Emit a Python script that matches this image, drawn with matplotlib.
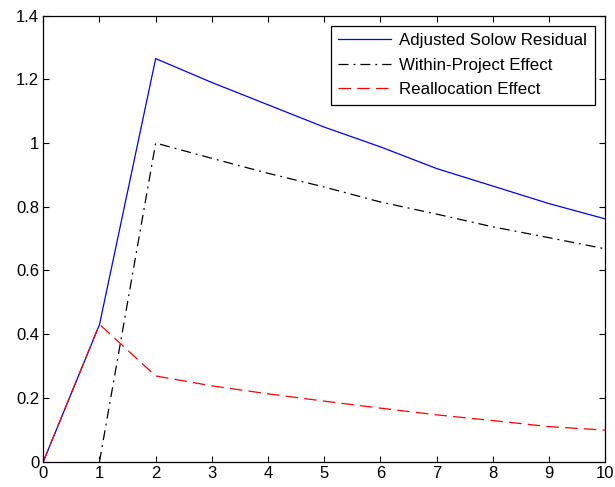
import matplotlib
matplotlib.use('Agg')

import numpy as np
from matplotlib import pyplot as plt

plt.rcParams['font.family'] = ['Liberation Sans', 'DejaVu Sans']

# periods
t = [0, 1, 2, 3, 4, 5, 6, 7, 8, 9, 10]

# series (within-project effect starts at t=1)
solow = [0, 0.43, 1.265, 1.19, 1.12, 1.05, 0.988, 0.92, 0.865, 0.81, 0.762]
within = [np.nan, 0, 1.0, 0.952, 0.905, 0.862, 0.815, 0.777, 0.737, 0.703, 0.668]
realloc = [0, 0.431, 0.269, 0.238, 0.213, 0.19, 0.168, 0.147, 0.129, 0.11, 0.099]

names = ['Adjusted Solow Residual', 'Within-Project Effect', 'Reallocation Effect']

xticks = [0, 1, 2, 3, 4, 5, 6, 7, 8, 9, 10]
yticks = [0, 0.2, 0.4, 0.6, 0.8, 1.0, 1.2, 1.4]
ylabels = ['0', '0.2', '0.4', '0.6', '0.8', '1', '1.2', '1.4']

fig = plt.figure(figsize=(6.15, 4.87), dpi=100)
ax = fig.add_axes([0.0704, 0.052, 0.9136, 0.916])

ax.plot(t, solow, color='#0000ff', lw=0.9, label=names[0])
ax.plot(t, within, color='black', lw=0.9, linestyle=(0, (8, 4, 1.5, 4)), label=names[1])
ax.plot(t, realloc, color='#ff0000', lw=0.9, linestyle=(0, (10, 5)), label=names[2])

ax.set_xlim(0, 10)
ax.set_ylim(0, 1.4)
ax.set_xticks(xticks)
ax.set_yticks(yticks)
ax.set_yticklabels(ylabels)
ax.tick_params(direction='in', top=True, right=True, length=4, width=0.8,
               labelsize=12, pad=3)
for s in ax.spines.values():
    s.set_linewidth(0.9)

leg = ax.legend(loc='upper right', fontsize=12.2, fancybox=False, framealpha=1,
                edgecolor='black', handlelength=3.1, handletextpad=0.5,
                borderaxespad=0.6, labelspacing=0.55, borderpad=0.45)
leg.get_frame().set_linewidth(0.9)

plt.savefig('out.png', dpi=100)
